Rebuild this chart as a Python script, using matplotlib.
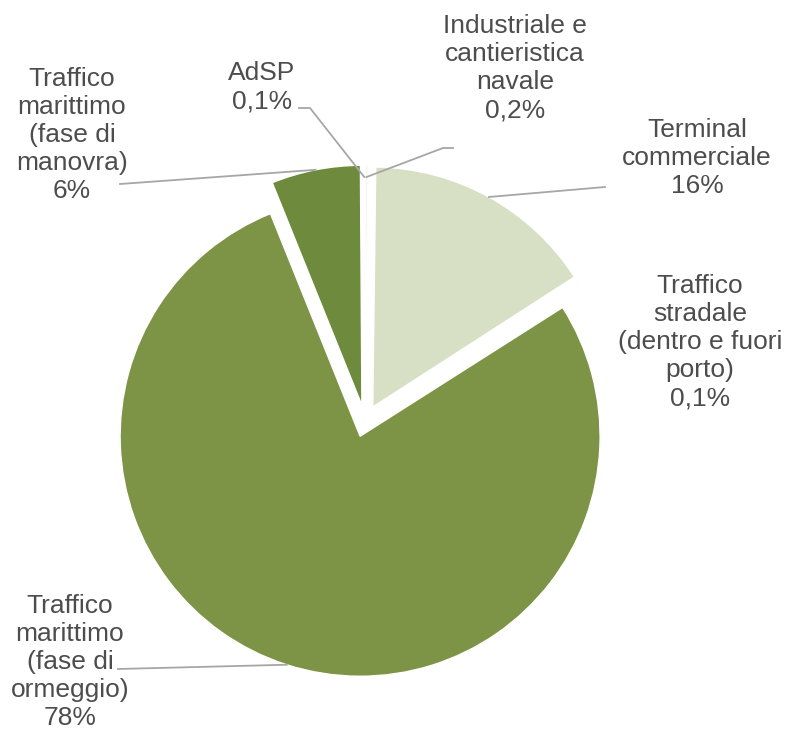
import numpy as np
import matplotlib
matplotlib.use("Agg")
from matplotlib import pyplot as plt

plt.rcParams['font.family'] = ['Liberation Sans', 'DejaVu Sans']

# slices, clockwise from the top
labels = ["Industriale e\ncantieristica\nnavale", "Terminal\ncommerciale",
          "Traffico\nstradale\n(dentro e fuori\nporto)", "Traffico\nmarittimo\n(fase di\normeggio)",
          "Traffico\nmarittimo\n(fase di\nmanovra)", "AdSP"]
values = [0.2, 15.7, 0.1, 78, 6, 0.1]
pct_text = ["0,2%", "16%", "0,1%", "78%", "6%", "0,1%"]
colors = ["#F1F4EA", "#D7E0C5", "#F1F4EA", "#7D9446", "#6D8A3D", "#F1F4EA"]

# layout (pixel coords, y up) for labels and leader-line elbows
label_pos = [(515, 667), (697, 577), (700, 393), (70, 73), (72, 600), (262, 648)]
leader_start = [[(453, 587), (443, 587)], [(605, 548)], None,
                [(118, 66)], [(120, 551)], [(299, 627), (310, 627)]]
leader_frac = [0.95, 1.0, 1.0, 1.0, 1.0, 0.95]

W, H = 788, 735
fig = plt.figure(figsize=(W / 100, H / 100), dpi=100)
ax = fig.add_axes([0, 0, 1, 1])

# explode is in data units here (pixels)
wedges, _ = ax.pie(values, colors=colors, startangle=90, counterclock=False,
                   center=(365, 314), radius=240, explode=[16] * len(values),
                   wedgeprops={'edgecolor': 'white', 'linewidth': 1}, frame=True)

for i, w in enumerate(wedges):
    ax.text(label_pos[i][0], label_pos[i][1], labels[i] + "\n" + pct_text[i],
            ha='center', va='center', fontsize=19, color='#4D4D4D', linespacing=1.22)
    if leader_start[i] is None:
        continue
    mid = np.deg2rad((w.theta1 + w.theta2) / 2)
    r = w.r * leader_frac[i]
    end = (w.center[0] + r * np.cos(mid), w.center[1] + r * np.sin(mid))
    pts = leader_start[i] + [end]
    ax.plot([p[0] for p in pts], [p[1] for p in pts], color='#A6A6A6', linewidth=1.3)

ax.set_xlim(0, W)
ax.set_ylim(0, H)
ax.set_aspect('equal')
ax.axis('off')

fig.savefig("out.png", dpi=100, facecolor='white')
